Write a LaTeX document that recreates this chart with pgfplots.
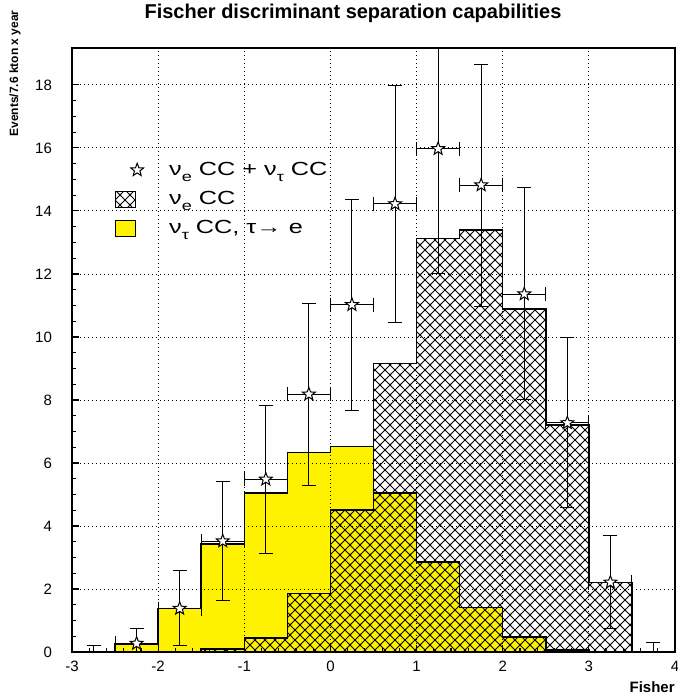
\documentclass[border=0pt]{standalone}
\usepackage{fontspec}
\setmainfont{Liberation Sans}
\usepackage{pgfplots}
\usepackage{pgfplotstable}
\pgfplotsset{compat=1.18}
\usetikzlibrary{patterns}

\pgfdeclarepatternformonly{diagcross}{\pgfqpoint{-0.5pt}{-0.5pt}}{\pgfqpoint{5.5pt}{5.5pt}}{\pgfqpoint{5pt}{5pt}}{%
  \pgfsetlinewidth{0.5pt}%
  \pgfpathmoveto{\pgfqpoint{-0.5pt}{-0.5pt}}\pgfpathlineto{\pgfqpoint{5.5pt}{5.5pt}}%
  \pgfpathmoveto{\pgfqpoint{-0.5pt}{5.5pt}}\pgfpathlineto{\pgfqpoint{5.5pt}{-0.5pt}}%
  \pgfusepath{stroke}}

\pgfdeclareplotmark{ostar}{%
  \pgfpathmoveto{\pgfpointpolar{90}{1.0*\pgfplotmarksize}}%
  \pgfpathlineto{\pgfpointpolar{126}{0.42*\pgfplotmarksize}}%
  \pgfpathlineto{\pgfpointpolar{162}{1.0*\pgfplotmarksize}}%
  \pgfpathlineto{\pgfpointpolar{198}{0.42*\pgfplotmarksize}}%
  \pgfpathlineto{\pgfpointpolar{234}{1.0*\pgfplotmarksize}}%
  \pgfpathlineto{\pgfpointpolar{270}{0.42*\pgfplotmarksize}}%
  \pgfpathlineto{\pgfpointpolar{306}{1.0*\pgfplotmarksize}}%
  \pgfpathlineto{\pgfpointpolar{342}{0.42*\pgfplotmarksize}}%
  \pgfpathlineto{\pgfpointpolar{18}{1.0*\pgfplotmarksize}}%
  \pgfpathlineto{\pgfpointpolar{54}{0.42*\pgfplotmarksize}}%
  \pgfpathclose
  \pgfusepathqfillstroke}

\newcommand{\legspace}{\pgfpathmoveto{\pgfpoint{25pt}{0pt}}\pgfusepath{use as bounding box}}
\pgfplotsset{
  boxlegend/.style={legend image code/.code={\draw[##1, line width=0.6pt] (0pt,-4pt) rectangle (10pt,4pt); \legspace}},
  starlegend/.style={legend image code/.code={\draw[##1] plot coordinates {(11pt,0pt)}; \legspace}},
}

\newcommand{\sub}[1]{\raisebox{-0.32em}{\fontsize{6.8}{7}\selectfont #1}}
\newcommand{\lt}[1]{\scalebox{1.33}[1]{#1}}

\pgfplotstableread{
x y
-3 0
-2.5 0.25
-2 1.38
-1.5 3.42
-1 5.04
-0.5 6.33
0 6.52
0.5 5.04
1 2.85
1.5 1.42
2 0.47
2.5 0.06
3 0
3.5 0
4 0
}\nutau

\pgfplotstableread{
x y
-3 0
-2.5 0
-2 0
-1.5 0.1
-1 0.44
-0.5 1.85
0 4.5
0.5 9.16
1 13.12
1.5 13.4
2 10.89
2.5 7.21
3 2.2
3.5 0
4 0
}\nue

\pgfplotstableread{
x y ex ep em
-2.25 0.27 0.25 0.48 0.27
-1.75 1.38 0.25 1.22 1.18
-1.25 3.52 0.25 1.89 1.89
-0.75 5.48 0.25 2.35 2.35
-0.25 8.18 0.25 2.87 2.89
0.25 11.02 0.25 3.33 3.34
0.75 14.22 0.25 3.76 3.75
1.25 15.97 0.25 4.0 3.97
1.75 14.82 0.25 3.83 3.85
2.25 11.36 0.25 3.38 3.35
2.75 7.27 0.25 2.71 2.69
3.25 2.21 0.25 1.5 1.48
}\sumdata

\pgfplotstableread{
x y ex ep em
-2.75 0 0.25 0.22 0
3.75 0 0.25 0.31 0
}\zerodata

\begin{document}
\begin{tikzpicture}
\begin{axis}[
  at={(36pt,21.5pt)}, anchor=south west,
  scale only axis, width=301.5pt, height=302pt,
  xmin=-3, xmax=4, ymin=0, ymax=19.17,
  axis on top,
  axis line style={line width=0.8pt},
  xtick={-3,-2,...,4}, ytick={0,2,...,18},
  minor x tick num=4, minor y tick num=3,
  tick pos=left, tick align=inside,
  major tick length=3.5pt, minor tick length=2pt,
  tick style={black, line width=0.6pt},
  grid=major,
  major grid style={black, line width=0.4pt, dash pattern=on 0.5pt off 1.5pt},
  /pgf/number format/assume math mode=true,
  ticklabel style={font=\fontsize{7.5}{9}\selectfont},
  yticklabel style={xshift=-6.5pt},
  xticklabel style={yshift=-1pt},
  legend style={at={(axis cs:-2.58,15.82)}, anchor=north west, draw=none, fill=none,
    font=\fontsize{9.5}{11}\selectfont, row sep=2.5pt},
  legend cell align=left,
  reverse legend,
]
\addplot[const plot, fill=yellow, draw=black, line width=0.75pt, boxlegend]
  table[x=x,y=y]{\nutau} \closedcycle;
\addlegendentry{\lt{ν\sub{τ} CC, τ→ e}}
\addplot[const plot, pattern=diagcross, draw=black, line width=0.75pt, boxlegend]
  table[x=x,y=y]{\nue} \closedcycle;
\addlegendentry{\lt{ν\sub{e} CC}}
\addplot[only marks, mark=ostar, mark size=3.4pt, mark options={fill=white, draw=black, line width=0.5pt},
  starlegend,
  error bars/.cd, x dir=both, x explicit, y dir=both, y explicit,
  error mark=-,
  error bar style={black, line width=0.5pt},
  error mark options={rotate=90, black, line width=0.5pt, mark size=3.5pt}]
  table[x=x, y=y, x error=ex, y error plus=ep, y error minus=em]{\sumdata};
\addlegendentry{\lt{ν\sub{e} CC + ν\sub{τ} CC}}
\addplot[draw=none, mark=none, forget plot,
  error bars/.cd, x dir=both, x explicit, y dir=both, y explicit,
  error mark=-,
  error bar style={draw=black, line width=0.5pt},
  error mark options={rotate=90, draw=black, line width=0.5pt, mark size=3.5pt}]
  table[x=x, y=y, x error=ex, y error plus=ep, y error minus=em]{\zerodata};
\end{axis}
\node[font=\fontsize{10}{12}\selectfont\bfseries] at (176.5pt,341pt) {Fischer discriminant separation capabilities};
\node[font=\fontsize{7.5}{9}\selectfont\bfseries, anchor=east, inner sep=0pt] at (337.5pt,4pt) {Fisher};
\node[font=\fontsize{6}{7}\selectfont\bfseries, rotate=90, anchor=east, inner sep=0pt] at (7.5pt,342.5pt) {Events/7.6 kton x year};
\pgfresetboundingbox
\useasboundingbox (0,0) rectangle (338.5pt,347.5pt);
\end{tikzpicture}
\end{document}
